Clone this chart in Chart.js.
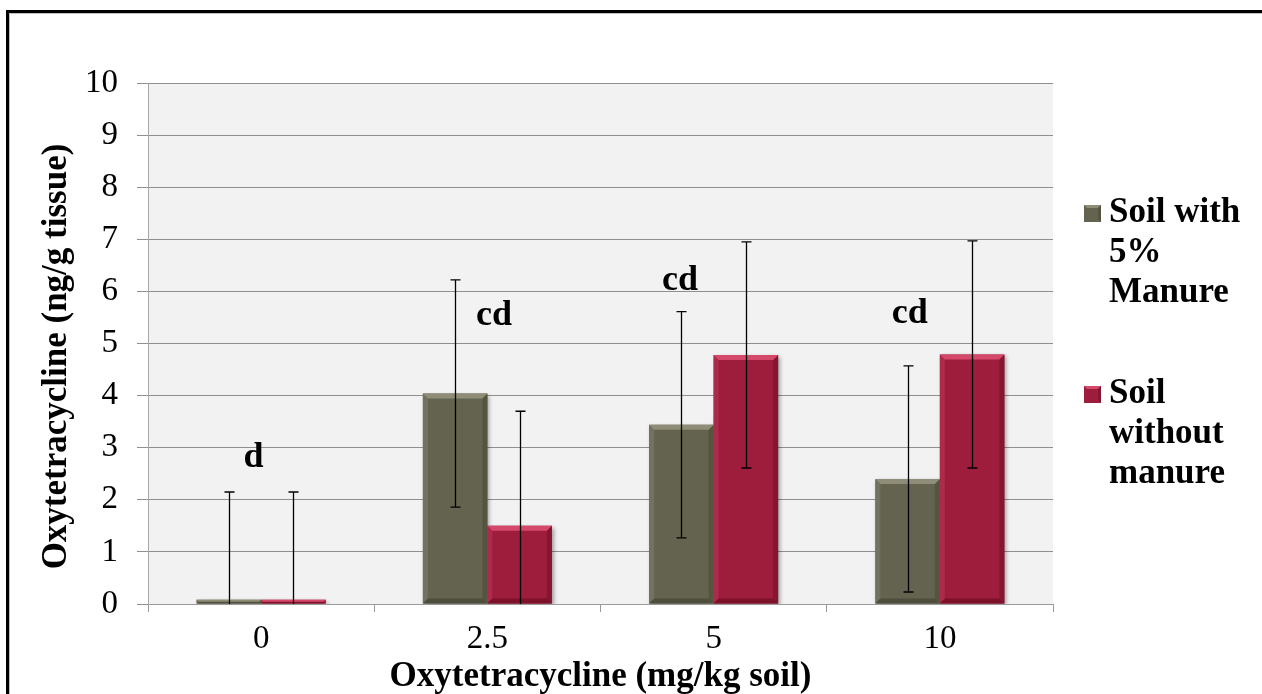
<!DOCTYPE html>
<html>
<head>
<meta charset="utf-8">
<title>Oxytetracycline uptake</title>
<script src="https://cdn.jsdelivr.net/npm/chart.js@4.4.1/dist/chart.umd.min.js"></script>
<style>
  html, body { margin: 0; padding: 0; background: #ffffff; overflow: hidden; }
  #wrap { position: relative; width: 1262px; height: 694px; }
</style>
</head>
<body>
<div id="wrap"><canvas id="chart"></canvas></div>
<script>
// Oxytetracycline dose in soil (mg/kg soil)
const categories = ["0", "2.5", "5", "10"];

// Mean tissue concentration (ng/g tissue)
const withManure = [0.08, 4.04, 3.44, 2.40];
const withoutManure = [0.08, 1.50, 4.78, 4.79];

// Error bar half-widths (ng/g tissue)
const errWithManure = [2.07, 2.18, 2.17, 2.17];
const errWithoutManure = [2.07, 2.20, 2.17, 2.18];

// Significance letters per dose
const sigLetters = ["d", "cd", "cd", "cd"];

// Series names as printed in the legend (one entry per line)
const seriesNames = [["Soil with", "5%", "Manure"], ["Soil", "without", "manure"]];

const yTicks = [0, 1, 2, 3, 4, 5, 6, 7, 8, 9, 10];
const yTitle = "Oxytetracycline (ng/g tissue)";
const xTitle = "Oxytetracycline (mg/kg soil)";

// Letter anchors: baseline height in axis units and horizontal shift as a share of the category width
const letterAnchor = [
  { y: 2.63, dx: -0.034 },
  { y: 5.36, dx: 0.029 },
  { y: 6.03, dx: -0.149 },
  { y: 5.39, dx: -0.133 }
];

const palette = [
  { fill: "#636350", top: "#8f8d77", left: "#727260", right: "#55553f", bottom: "#4e4e3c" },
  { fill: "#9e1d3c", top: "#d4486a", left: "#ad2a4a", right: "#861530", bottom: "#7c1129" }
];
const errSets = [errWithManure, errWithoutManure];
const SERIF = "'Liberation Serif', 'Times New Roman', serif";

// Frame, plot background, bar finishing, error bars, letters and legend
const backdrop = {
  id: "backdrop",
  beforeDraw(chart) {
    const { ctx, chartArea: a } = chart;
    ctx.save();
    ctx.fillStyle = "#f2f2f2";
    ctx.fillRect(a.left, a.top, a.right - a.left, a.bottom - a.top);
    ctx.strokeStyle = "#000";
    ctx.lineWidth = 3;
    ctx.beginPath();
    ctx.moveTo(7.5, 1000);
    ctx.lineTo(7.5, 11.5);
    ctx.lineTo(1400, 11.5);
    ctx.stroke();
    ctx.strokeStyle = "rgba(0,0,0,0.25)";
    ctx.lineWidth = 1;
    ctx.beginPath();
    ctx.moveTo(9.5, 1000);
    ctx.lineTo(9.5, 13.5);
    ctx.lineTo(1400, 13.5);
    ctx.stroke();
    ctx.restore();
  },
  beforeDatasetsDraw(chart) {
    const ctx = chart.ctx;
    ctx.save();
    ctx.shadowColor = "rgba(0,0,0,0.35)";
    ctx.shadowBlur = 4;
    ctx.shadowOffsetX = 2;
    ctx.shadowOffsetY = 2;
  },
  afterDatasetsDraw(chart) {
    const ctx = chart.ctx;
    ctx.restore();
    // bevelled edges on each bar
    chart.data.datasets.forEach((ds, di) => {
      const meta = chart.getDatasetMeta(di);
      const c = palette[di];
      meta.data.forEach((bar) => {
        const { x, y, base, width } = bar.getProps(["x", "y", "base", "width"], true);
        const l = x - width / 2, r = x + width / 2, t = Math.min(y, base), b = Math.max(y, base);
        const bv = Math.min(5, (b - t) / 2, width / 2);
        if (bv <= 0) return;
        const quad = (pts, col) => {
          ctx.fillStyle = col;
          ctx.beginPath();
          ctx.moveTo(pts[0][0], pts[0][1]);
          for (let i = 1; i < pts.length; i++) ctx.lineTo(pts[i][0], pts[i][1]);
          ctx.closePath();
          ctx.fill();
        };
        ctx.save();
        quad([[l, t], [l + bv, t + bv], [l + bv, b - bv], [l, b]], c.left);
        quad([[r, t], [r - bv, t + bv], [r - bv, b - bv], [r, b]], c.right);
        quad([[l, b], [l + bv, b - bv], [r - bv, b - bv], [r, b]], c.bottom);
        quad([[l, t], [r, t], [r - bv, t + bv], [l + bv, t + bv]], c.top);
        ctx.restore();
      });
    });
    // error bars
    const ys = chart.scales.y;
    const a = chart.chartArea;
    ctx.save();
    ctx.strokeStyle = "#000";
    ctx.lineWidth = 1.3;
    chart.data.datasets.forEach((ds, di) => {
      const meta = chart.getDatasetMeta(di);
      meta.data.forEach((bar, i) => {
        const v = ds.data[i], e = errSets[di][i];
        const hiV = v + e, loV = Math.max(0, v - e);
        const px = Math.round(bar.x) + 0.5;
        const yHi = ys.getPixelForValue(hiV), yLo = ys.getPixelForValue(loV);
        ctx.beginPath();
        ctx.moveTo(px, yHi);
        ctx.lineTo(px, yLo);
        ctx.moveTo(px - 5, yHi);
        ctx.lineTo(px + 5, yHi);
        if (v - e > 0) {
          ctx.moveTo(px - 5, yLo);
          ctx.lineTo(px + 5, yLo);
        }
        ctx.stroke();
      });
    });
    ctx.restore();
    // significance letters
    const xs = chart.scales.x;
    const catW = (a.right - a.left) / categories.length;
    ctx.save();
    ctx.fillStyle = "#000";
    ctx.font = "bold 36px " + SERIF;
    ctx.textAlign = "center";
    ctx.textBaseline = "alphabetic";
    sigLetters.forEach((txt, i) => {
      const cx = xs.getPixelForValue(i) + letterAnchor[i].dx * catW;
      ctx.fillText(txt, cx, ys.getPixelForValue(letterAnchor[i].y));
    });
    ctx.restore();
  },
  afterDraw(chart) {
    const { ctx, chartArea: a } = chart;
    // vertical axis title, set a little below the plot's middle
    ctx.save();
    ctx.fillStyle = "#000";
    ctx.font = "bold 35px " + SERIF;
    ctx.textAlign = "center";
    ctx.textBaseline = "middle";
    ctx.translate(57, (a.top + a.bottom) / 2 + 13);
    ctx.rotate(-Math.PI / 2);
    ctx.fillText(yTitle, 0, 0);
    ctx.restore();

    // multi-line legend at the right of the plot
    const lineH = 40;
    let base = a.top + 139;
    ctx.save();
    ctx.font = "bold 35px " + SERIF;
    ctx.textBaseline = "alphabetic";
    ctx.textAlign = "left";
    seriesNames.forEach((lines, si) => {
      const c = palette[si];
      const mx = a.right + 31, my = base - 17, ms = 17;
      ctx.fillStyle = c.fill;
      ctx.fillRect(mx, my, ms, ms);
      ctx.fillStyle = c.top;
      ctx.beginPath();
      ctx.moveTo(mx, my); ctx.lineTo(mx + ms, my); ctx.lineTo(mx + ms - 3, my + 3); ctx.lineTo(mx + 3, my + 3);
      ctx.closePath(); ctx.fill();
      ctx.fillStyle = c.right;
      ctx.beginPath();
      ctx.moveTo(mx + ms, my); ctx.lineTo(mx + ms, my + ms); ctx.lineTo(mx + ms - 3, my + ms - 3); ctx.lineTo(mx + ms - 3, my + 3);
      ctx.closePath(); ctx.fill();
      ctx.fillStyle = "#000";
      lines.forEach((ln, li) => {
        ctx.fillText(ln, a.right + 56, base + li * lineH);
      });
      base += lines.length * lineH + 61;
    });
    ctx.restore();
  }
};

new Chart(document.getElementById("chart"), {
  type: "bar",
  data: {
    labels: categories,
    datasets: [
      { label: seriesNames[0].join(" "), data: withManure, backgroundColor: palette[0].fill, borderWidth: 0 },
      { label: seriesNames[1].join(" "), data: withoutManure, backgroundColor: palette[1].fill, borderWidth: 0 }
    ]
  },
  options: {
    responsive: true,
    maintainAspectRatio: false,
    animation: false,
    devicePixelRatio: 1,
    datasets: { bar: { categoryPercentage: 0.57, barPercentage: 1.0 } },
    layout: { padding: { top: 83, right: 209, left: 0, bottom: 0 } },
    plugins: {
      legend: { display: false },
      tooltip: { enabled: false }
    },
    scales: {
      x: {
        afterFit(scale) { scale.height = 90; },
        grid: {
          offset: true,
          drawOnChartArea: false,
          drawTicks: true,
          tickLength: 8,
          color: "#9a9a9a"
        },
        border: { display: true, color: "#9a9a9a", width: 1 },
        ticks: {
          color: "#000",
          padding: 8,
          font: { family: SERIF, size: 33 }
        },
        title: {
          display: true,
          text: xTitle,
          color: "#000",
          padding: { top: 0, bottom: 0 },
          font: { family: SERIF, size: 35, weight: "bold", lineHeight: 1.0 }
        }
      },
      y: {
        min: 0,
        max: 10,
        afterFit(scale) { scale.width = 148; },
        afterBuildTicks(scale) { scale.ticks = yTicks.map(v => ({ value: v })); },
        grid: {
          color: "#8f8f8f",
          lineWidth: 1,
          drawTicks: true,
          tickLength: 11
        },
        border: { display: true, color: "#a8a8a8", width: 1 },
        ticks: {
          color: "#000",
          padding: 19,
          font: { family: SERIF, size: 33 }
        },
        title: { display: false }
      }
    }
  },
  plugins: [backdrop]
});
</script>
</body>
</html>
